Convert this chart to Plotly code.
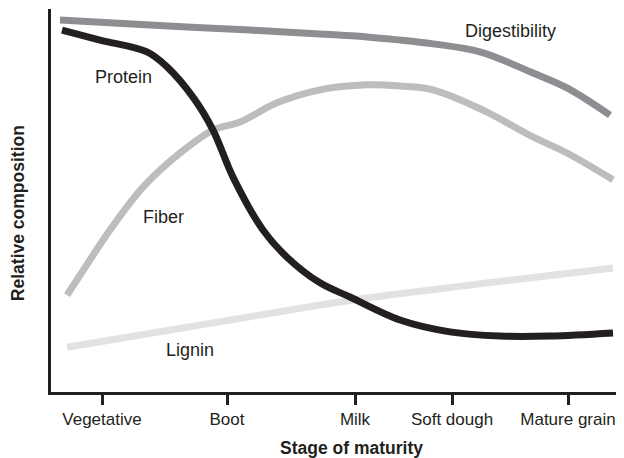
import plotly.graph_objects as go

stages = ["Vegetative", "Boot", "Milk", "Soft dough", "Mature grain"]
stage_pos = [0.0, 1.0, 2.024, 2.8, 3.728]

# Curves (x position, relative composition 0-100)
dig_x = [-0.336, 0.384, 1.184, 1.744, 2.12, 2.648, 3.024, 3.448, 3.72, 4.064]
dig_y = [97.1, 95.8, 94.5, 93.5, 92.7, 90.9, 88.8, 83.3, 79.4, 72.3]

prot_x = [-0.32, -0.016, 0.36, 0.52, 0.728, 0.888, 1.048, 1.288, 1.48, 1.744,
          1.984, 2.384, 2.784, 3.184, 3.584, 4.088]
prot_y = [94.5, 91.9, 88.8, 84.9, 77.0, 68.4, 56.1, 42.3, 35.2, 28.5,
          24.8, 18.8, 15.7, 14.6, 14.6, 15.4]

fib_x = [-0.28, -0.096, 0.064, 0.328, 0.624, 0.888, 1.104, 1.4, 1.744, 2.12,
         2.384, 2.648, 3.048, 3.448, 3.72, 4.088]
fib_y = [25.3, 34.5, 42.3, 53.5, 62.4, 68.4, 70.5, 75.5, 78.9, 80.2,
         79.9, 78.9, 73.6, 66.6, 62.4, 55.4]

lig_x = [-0.28, 1.744, 2.064, 4.088]
lig_y = [11.7, 22.7, 24.3, 32.4]

labels = ["Digestibility", "Protein", "Fiber", "Lignin"]
label_x = [3.264, 0.168, 0.488, 0.704]
label_y = [94.3, 82.2, 45.7, 11.0]

FONT = "Liberation Sans, Arial, Helvetica, sans-serif"
AX = "#231f20"

fig = go.Figure()
series = [
    (lig_x, lig_y, "#e2e2e3"),
    (fib_x, fib_y, "#bcbdbf"),
    (dig_x, dig_y, "#8d8e92"),
    (prot_x, prot_y, "#231f20"),
]
for xs, ys, col in series:
    fig.add_trace(go.Scatter(x=xs, y=ys, mode="lines",
                             line=dict(color=col, width=7, shape="spline", smoothing=1.0),
                             hoverinfo="skip", showlegend=False))

for t, x, y in zip(labels, label_x, label_y):
    fig.add_annotation(x=x, y=y, text=t, showarrow=False,
                       font=dict(family=FONT, size=18, color="#231f20"))

fig.add_annotation(xref="paper", yref="paper", x=0, y=0.467, xshift=-33,
                   xanchor="center", yanchor="middle",
                   text="<b>Relative composition</b>", textangle=-90, showarrow=False,
                   font=dict(family=FONT, size=17.5, color="#231f20"))
fig.add_annotation(xref="paper", yref="paper", x=0.524, y=0, yshift=-56,
                   xanchor="center", yanchor="middle",
                   text="<b>Stage of maturity</b>", showarrow=False,
                   font=dict(family=FONT, size=17.5, color="#231f20"))

fig.update_xaxes(range=[-0.408, 4.176], tickvals=stage_pos, ticktext=stages,
                 showgrid=False, zeroline=False, showline=True, linecolor=AX, linewidth=2.5,
                 ticks="outside", ticklen=10, tickwidth=2.5, tickcolor=AX,
                 tickfont=dict(family=FONT, size=17, color="#231f20"))
fig.update_yaxes(range=[0, 100], showgrid=False, zeroline=False, showline=True,
                 linecolor=AX, linewidth=2.5, showticklabels=False, ticks="")

# page body has an 8px margin, so the figure is offset by (8, 8)
fig.update_layout(width=616, height=450, margin=dict(l=43, r=0, t=1, b=66),
                  plot_bgcolor="white", paper_bgcolor="white")

fig.write_html("out.html")
